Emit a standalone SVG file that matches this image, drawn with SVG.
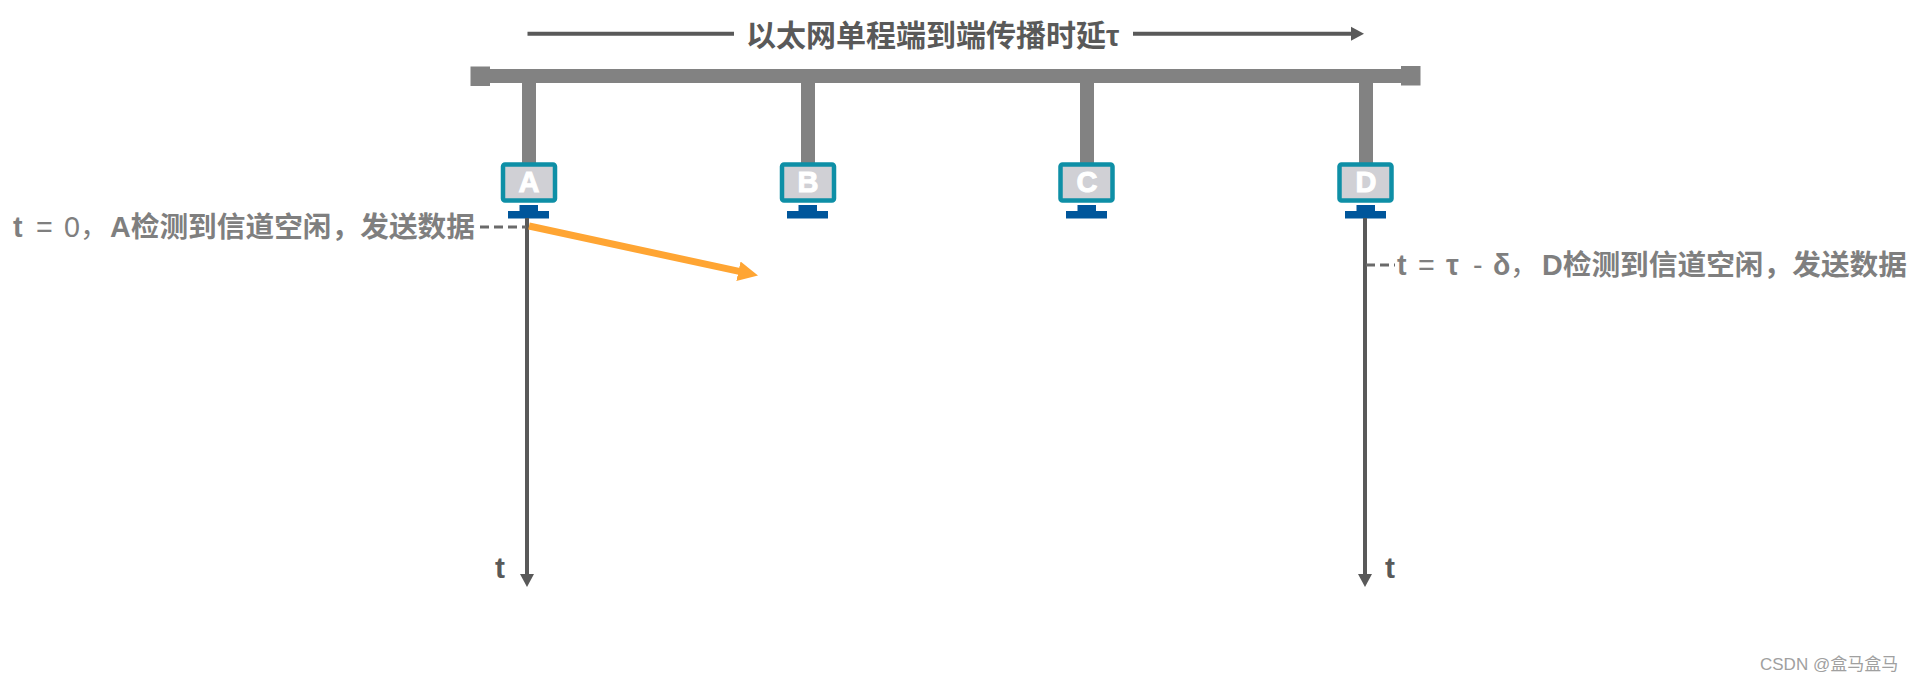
<svg xmlns="http://www.w3.org/2000/svg" width="1910" height="682" viewBox="0 0 1910 682">
<defs>
<style>
text{font-family:"Liberation Sans","Noto Sans CJK SC",sans-serif}
.bus{fill:#828282}
.scr{fill:#d0d0d5;stroke:#0e8fa6;stroke-width:4.5}
.std{fill:#00569b}
.let{font-size:29px;font-weight:700;fill:#fff;stroke:#fff;stroke-width:1;text-anchor:middle}
.ln{stroke:#595959;stroke-width:4;fill:none}
.dash{stroke:#6a6a6a;stroke-width:3;stroke-dasharray:9 5;fill:none}
.lab{font-size:28.700px;font-weight:700;fill:#7f7f7f}
.lt{font-weight:400}
.dark{font-size:30px;font-weight:700;fill:#595959}
</style>
<marker id="ah" markerUnits="userSpaceOnUse" markerWidth="14" markerHeight="16" refX="2" refY="8" orient="auto"><path d="M0 1L13 8L0 15Z" fill="#595959"/></marker>
<marker id="oh" markerUnits="userSpaceOnUse" markerWidth="22" markerHeight="24" refX="2" refY="12" orient="auto"><path d="M0 2L20 12L0 22Z" fill="#ffa533"/></marker>
</defs>
<rect width="1910" height="682" fill="#fff"/>
<g id="bus">
<rect class="bus" x="480" y="69" width="930" height="14"/>
<rect class="bus" x="470.500" y="66.500" width="19.500" height="19.500"/>
<rect class="bus" x="1401" y="66" width="19.500" height="19.500"/>
<rect class="bus" x="522" y="83" width="14" height="80"/>
<rect class="bus" x="801" y="83" width="14" height="80"/>
<rect class="bus" x="1080" y="83" width="14" height="80"/>
<rect class="bus" x="1359" y="83" width="14" height="80"/>
</g>
<g id="node-A">
<rect class="scr" x="503" y="164.500" width="52" height="36" rx="2"/>
<rect class="std" x="519.500" y="205" width="18.500" height="7"/><rect class="std" x="508" y="211" width="41" height="7.500"/>
<text class="let" x="529" y="192">A</text>
</g>
<g id="node-B">
<rect class="scr" x="782" y="164.500" width="52" height="36" rx="2"/>
<rect class="std" x="798.500" y="205" width="18.500" height="7"/><rect class="std" x="787" y="211" width="41" height="7.500"/>
<text class="let" x="808" y="192">B</text>
</g>
<g id="node-C">
<rect class="scr" x="1060.500" y="164.500" width="52" height="36" rx="2"/>
<rect class="std" x="1077.500" y="205" width="18.500" height="7"/><rect class="std" x="1066" y="211" width="41" height="7.500"/>
<text class="let" x="1087" y="192">C</text>
</g>
<g id="node-D">
<rect class="scr" x="1339.500" y="164.500" width="52" height="36" rx="2"/>
<rect class="std" x="1356.500" y="205" width="18.500" height="7"/><rect class="std" x="1345" y="211" width="41" height="7.500"/>
<text class="let" x="1366" y="192">D</text>
</g>
<g id="connectors">
<line class="ln" x1="527.500" y1="33.700" x2="734" y2="33.700"/>
<line class="ln" x1="1133" y1="33.700" x2="1353" y2="33.700" marker-end="url(#ah)"/>
<line class="ln" x1="527" y1="218" x2="527" y2="576" marker-end="url(#ah)"/>
<line class="ln" x1="1365" y1="218" x2="1365" y2="576" marker-end="url(#ah)"/>
<line class="dash" x1="480" y1="227" x2="526" y2="227"/>
<line class="dash" x1="1366" y1="265" x2="1395" y2="265"/>
<line x1="529" y1="226" x2="740.400" y2="271.700" stroke="#ffa533" stroke-width="7" marker-end="url(#oh)"/>
</g>
<g id="labels">
<text x="746" y="46" font-size="30px" font-weight="700" fill="#595959">以太网单程端到端传播时延τ</text>
<text class="lab" y="237"><tspan x="13">t</tspan><tspan class="lt" x="36">=</tspan><tspan class="lt" x="64">0</tspan><tspan class="lt" x="80">，</tspan><tspan x="110">A检测到信道空闲，发送数据</tspan></text>
<text class="lab" y="275"><tspan x="1397">t</tspan><tspan class="lt" x="1418">=</tspan><tspan x="1446">τ</tspan><tspan class="lt" x="1473">-</tspan><tspan x="1493">δ</tspan><tspan class="lt" x="1510">，</tspan><tspan x="1542">D检测到信道空闲，发送数据</tspan></text>
<text class="dark" x="495" y="578">t</text>
<text class="dark" x="1385" y="578">t</text>
<text x="1760" y="670" font-size="17" fill="#a0a0a0">CSDN @盒马盒马</text>
</g>
</svg>
